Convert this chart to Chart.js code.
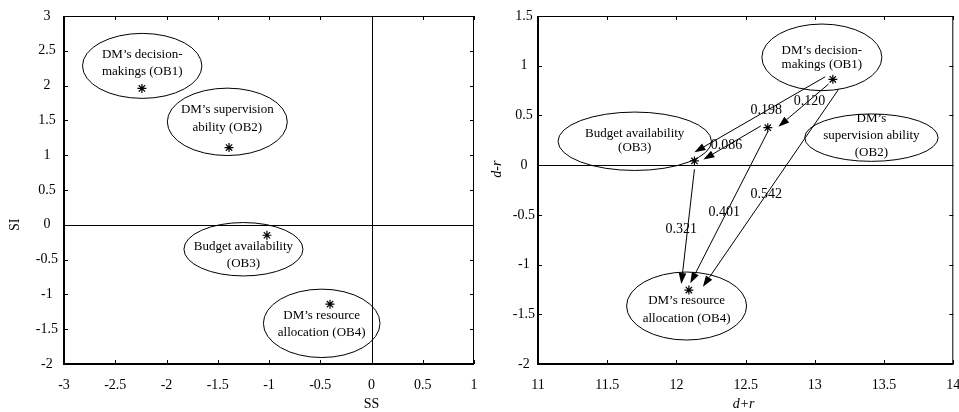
<!DOCTYPE html>
<html>
<head>
<meta charset="utf-8">
<script src="https://cdn.jsdelivr.net/npm/chart.js@4/dist/chart.umd.min.js"></script>
<style>
  html, body { margin: 0; padding: 0; background: #fff; }
  #wrap { position: relative; width: 959px; height: 412px; overflow: hidden; }
  #c1 { position: absolute; left: 0; top: 0; }
  #c2 { position: absolute; left: 480px; top: 0; }
</style>
</head>
<body>
<div id="wrap">
  <canvas id="c1" width="480" height="412"></canvas>
  <canvas id="c2" width="479" height="412"></canvas>
</div>
<script>
// ---------------- DATA ----------------
const objectives = ['OB1', 'OB2', 'OB3', 'OB4'];
const labelLinesLeft = [
  ['DM\u2019s decision-', 'makings (OB1)'],
  ['DM\u2019s supervision', 'ability (OB2)'],
  ['Budget availability', '(OB3)'],
  ['DM\u2019s resource', 'allocation (OB4)']
];
const labelLinesRight = [
  ['DM\u2019s decision-', 'makings (OB1)'],
  ['DM\u2019s', 'supervision ability', '(OB2)'],
  ['Budget availability', '(OB3)'],
  ['DM\u2019s resource', 'allocation (OB4)']
];
// Left chart: SS (x) vs SI (y)
const ssValues = [-2.24, -1.39, -1.02, -0.405];
const siValues = [1.96, 1.11, -0.15, -1.14];
// Right chart: d+r (x) vs d-r (y)
const dPlusR = [13.13, 12.66, 12.13, 12.09];
const dMinusR = [0.863, 0.377, 0.042, -1.256];
// Influence arrows (indices into objectives) and weights
const arrowFrom = [0, 0, 1, 0, 1, 2];
const arrowTo = [2, 1, 2, 3, 3, 3];
const arrowWeights = ['0.198', '0.120', '0.086', '0.542', '0.401', '0.321'];
// Axis ranges / ticks
const ssRange = [-3, 1];
const siRange = [-2, 3];
const dprRange = [11, 14];
const dmrRange = [-2, 1.5];
const tickStep = 0.5;

// ---------------- STYLE / HELPERS ----------------
const SERIF = '"Liberation Serif", "Times New Roman", serif';
Chart.defaults.font.family = SERIF;
Chart.defaults.color = '#000';

function fmt(v) { return Number(Number(v).toFixed(2)).toString(); }

function makeScales(xr, yr, yWidth, xHeight, yPad) {
  return {
    x: {
      type: 'linear', min: xr[0], max: xr[1],
      grid: { display: false }, border: { display: false },
      ticks: { stepSize: tickStep, padding: 5, maxRotation: 0, autoSkip: false,
               font: { size: 14 }, color: '#000', callback: fmt },
      afterFit: s => { s.height = xHeight; s.paddingLeft = 0; s.paddingRight = 0; }
    },
    y: {
      type: 'linear', min: yr[0], max: yr[1],
      grid: { display: false }, border: { display: false },
      ticks: { stepSize: tickStep, padding: yPad, crossAlign: 'center', autoSkip: false,
               font: { size: 14 }, color: '#000', callback: fmt },
      afterFit: s => { s.width = yWidth; s.paddingTop = 0; s.paddingBottom = 0; }
    }
  };
}

// frame, inward ticks, zero lines, ellipses, arrows, axis titles
const decorPlugin = {
  id: 'decor',
  beforeDatasetsDraw(chart, args, o) {
    const ctx = chart.ctx, a = chart.chartArea, xs = chart.scales.x, ys = chart.scales.y;
    ctx.save();
    ctx.strokeStyle = '#000';
    // zero lines
    ctx.lineWidth = 1;
    if (o.zeroY) {
      const y0 = Math.round(ys.getPixelForValue(0)) + 0.5;
      ctx.beginPath(); ctx.moveTo(a.left, y0); ctx.lineTo(a.right, y0); ctx.stroke();
    }
    if (o.zeroX) {
      const x0 = Math.round(xs.getPixelForValue(0)) + 0.5;
      ctx.beginPath(); ctx.moveTo(x0, a.top); ctx.lineTo(x0, a.bottom); ctx.stroke();
    }
    // inward tick marks
    const tl = 4;
    xs.ticks.forEach(t => {
      const px = Math.round(xs.getPixelForValue(t.value)) + 0.5;
      ctx.beginPath();
      ctx.moveTo(px, a.bottom); ctx.lineTo(px, a.bottom - tl);
      ctx.moveTo(px, a.top); ctx.lineTo(px, a.top + tl);
      ctx.stroke();
    });
    ys.ticks.forEach(t => {
      const py = Math.round(ys.getPixelForValue(t.value)) + 0.5;
      ctx.beginPath();
      ctx.moveTo(a.left, py); ctx.lineTo(a.left + tl, py);
      ctx.moveTo(a.right, py); ctx.lineTo(a.right - tl, py);
      ctx.stroke();
    });
    // frame
    ctx.lineWidth = 1;
    ctx.beginPath();
    ctx.moveTo(a.left, a.top + 0.5); ctx.lineTo(a.right, a.top + 0.5);
    ctx.moveTo(a.right - 0.5, a.top); ctx.lineTo(a.right - 0.5, a.bottom);
    ctx.stroke();
    ctx.lineWidth = 2;
    ctx.beginPath();
    ctx.moveTo(a.left, a.top); ctx.lineTo(a.left, a.bottom);
    ctx.lineTo(a.right, a.bottom);
    ctx.stroke();

    // ellipses with labels
    const meta = chart.getDatasetMeta(0);
    ctx.lineWidth = 1;
    ctx.fillStyle = '#000';
    ctx.textAlign = 'center';
    ctx.textBaseline = 'middle';
    ctx.font = '13px ' + SERIF;
    o.ellipses.forEach((e, i) => {
      const p = meta.data[i];
      const cx = p.x + e.dx, cy = p.y + e.dy;
      ctx.beginPath();
      ctx.ellipse(cx, cy, e.rx, e.ry, 0, 0, Math.PI * 2);
      ctx.stroke();
      const lines = o.lines[i];
      const n = lines.length;
      lines.forEach((ln, k) => {
        ctx.fillText(ln, cx, cy + e.tdy + (k - (n - 1) / 2) * e.lh);
      });
    });

    // arrows
    if (o.arrows) {
      const ar = o.arrows;
      ctx.font = '14px ' + SERIF;
      ar.from.forEach((fi, i) => {
        const ti = ar.to[i];
        const off = ar.offsets[i];
        const p0 = meta.data[fi], p1 = meta.data[ti];
        const x0 = p0.x + off[0], y0 = p0.y + off[1];
        const x1 = p1.x + off[2], y1 = p1.y + off[3];
        const ang = Math.atan2(y1 - y0, x1 - x0);
        const hl = 11, hw = 3.8;
        const bx = x1 - hl * Math.cos(ang), by = y1 - hl * Math.sin(ang);
        ctx.lineWidth = 1;
        ctx.beginPath(); ctx.moveTo(x0, y0); ctx.lineTo(bx, by); ctx.stroke();
        ctx.beginPath();
        ctx.moveTo(x1, y1);
        ctx.lineTo(bx + hw * Math.sin(ang), by - hw * Math.cos(ang));
        ctx.lineTo(bx - hw * Math.sin(ang), by + hw * Math.cos(ang));
        ctx.closePath(); ctx.fill();
        const lo = ar.labelOffsets[i];
        ctx.fillText(ar.labels[i], (x0 + x1) / 2 + lo[0], (y0 + y1) / 2 + lo[1]);
      });
    }
    ctx.restore();
  },
  afterDraw(chart, args, o) {
    const ctx = chart.ctx, a = chart.chartArea;
    ctx.save();
    ctx.fillStyle = '#000';
    ctx.textAlign = 'center';
    ctx.textBaseline = 'middle';
    const t = o.titles;
    ctx.font = (t.italic ? 'italic ' : '') + '14px ' + SERIF;
    ctx.fillText(t.x, a.left + t.xPos * (a.right - a.left), t.xY);
    ctx.translate(t.yX, a.top + t.yPos * (a.bottom - a.top));
    ctx.rotate(-Math.PI / 2);
    ctx.fillText(t.y, 0, 0);
    ctx.restore();
  }
};

function pts(xs, ys) { return xs.map((x, i) => ({ x, y: ys[i] })); }

const pointDs = (data) => ({
  data,
  pointStyle: 'star',
  pointRadius: 4.5,
  pointHoverRadius: 4.5,
  borderColor: '#000',
  backgroundColor: '#000',
  pointBorderWidth: 1.2,
  showLine: false
});

// ---------------- LEFT CHART ----------------
new Chart(document.getElementById('c1'), {
  type: 'scatter',
  data: { labels: objectives, datasets: [pointDs(pts(ssValues, siValues))] },
  options: {
    responsive: false, animation: false, devicePixelRatio: 1,
    layout: { padding: { top: 16, right: 6, left: 0, bottom: 0 } },
    plugins: {
      legend: { display: false }, tooltip: { enabled: false },
      decor: {
        zeroX: true, zeroY: true,
        lines: labelLinesLeft,
        ellipses: [
          { dx: 0.3, dy: -22.5, rx: 59.7, ry: 32.5, tdy: -2.5, lh: 17 },
          { dx: -1.7, dy: -25.7, rx: 60, ry: 33.7, tdy: -3.2, lh: 17.5 },
          { dx: -23.5, dy: 14, rx: 59.5, ry: 26.7, tdy: 5.7, lh: 16.6 },
          { dx: -8.3, dy: 19.2, rx: 58.3, ry: 34.2, tdy: 0.5, lh: 17.3 }
        ],
        titles: { x: 'SS', y: 'SI', italic: false, xPos: 0.75, xY: 404, yX: 15, yPos: 0.6 }
      }
    },
    scales: makeScales(ssRange, siRange, 64, 48, -2)
  },
  plugins: [decorPlugin]
});

// ---------------- RIGHT CHART ----------------
new Chart(document.getElementById('c2'), {
  type: 'scatter',
  data: { labels: objectives, datasets: [pointDs(pts(dPlusR, dMinusR))] },
  options: {
    responsive: false, animation: false, devicePixelRatio: 1,
    layout: { padding: { top: 16, right: 4, left: 0, bottom: 0 } },
    plugins: {
      legend: { display: false }, tooltip: { enabled: false },
      decor: {
        zeroX: false, zeroY: true,
        lines: labelLinesRight,
        ellipses: [
          { dx: -11, dy: -22, rx: 60, ry: 33.3, tdy: 0.7, lh: 14 },
          { dx: 103.6, dy: 10, rx: 66.7, ry: 23.7, tdy: -2.5, lh: 17 },
          { dx: -59.7, dy: -19.7, rx: 76.7, ry: 29.2, tdy: -0.5, lh: 14.4 },
          { dx: -2.3, dy: 16, rx: 60, ry: 34, tdy: 4, lh: 18 }
        ],
        arrows: {
          from: arrowFrom, to: arrowTo, labels: arrowWeights,
          // [start dx, start dy, tip dx, tip dy] in pixels relative to the points
          offsets: [
            [-7.6, -2.6, 0, -8.7],
            [-4.3, 4.7, 10.6, -1],
            [-7, -1.7, 9, -1.4],
            [5.7, 10, 14, -3.3],
            [0, 4, 1.4, -6.7],
            [0, 8.3, -7.6, -6]
          ],
          labelOffsets: [[6.5, -4.3], [6, -3.6], [-5.6, 3], [-4.4, 6.3], [-4.7, 4.8], [-6.6, 2.6]]
        },
        titles: { x: 'd+r', y: 'd-r', italic: true, xPos: 0.495, xY: 404, yX: 17, yPos: 0.44 }
      }
    },
    scales: makeScales(dprRange, dmrRange, 58, 48, -5)
  },
  plugins: [decorPlugin]
});
</script>
</body>
</html>
